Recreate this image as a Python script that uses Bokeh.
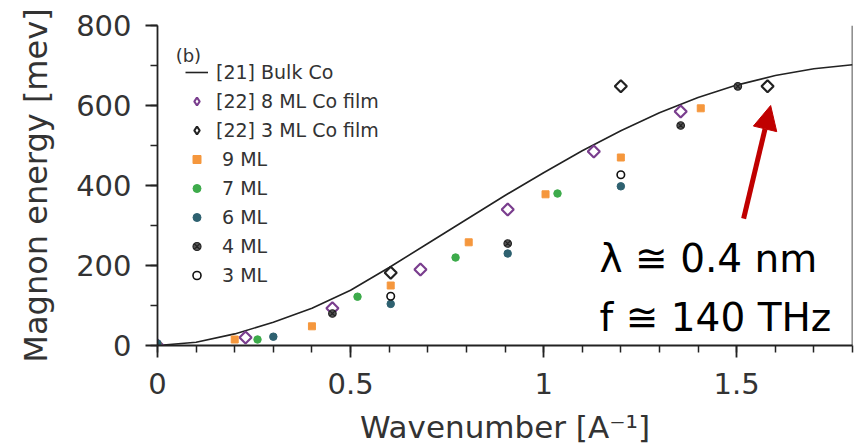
import numpy as np
from bokeh.plotting import figure
from bokeh.models import (Range1d, FixedTicker, NumeralTickFormatter, Legend, LegendItem,
                          Label, Arrow, NormalHead, Span, ColumnDataSource)
from bokeh.embed import file_html
from bokeh.resources import INLINE

# ---------------- data ----------------
BULK_Q = [0, 0.1, 0.2, 0.3, 0.4, 0.5, 0.6, 0.7, 0.8, 0.9, 1.0, 1.1, 1.2, 1.3, 1.4, 1.5, 1.6, 1.7, 1.8]
BULK_E = [0, 8, 29, 58, 93, 138, 195, 255, 315, 375, 432, 487, 537, 582, 620, 651, 675, 692, 702]

FILM8_Q = [0, 0.228, 0.453, 0.681, 0.907, 1.13, 1.355]
FILM8_E = [0, 20, 93, 190, 340, 485, 585]

FILM3_Q = [0.604, 1.20, 1.58]
FILM3_E = [182, 648, 648]

ML9_Q = [0, 0.20, 0.40, 0.604, 0.806, 1.005, 1.20, 1.407]
ML9_E = [0, 15, 48, 150, 258, 378, 470, 593]

ML7_Q = [0.259, 0.518, 0.772, 1.036]
ML7_E = [15, 122, 220, 380]

ML6_Q = [0, 0.30, 0.604, 0.907, 1.20]
ML6_E = [5, 22, 104, 230, 398]

ML4_Q = [0.453, 0.907, 1.355, 1.503]
ML4_E = [80, 255, 550, 648]

ML3_Q = [0.604, 1.20]
ML3_E = [123, 427]

X_TICKS = [0, 0.5, 1, 1.5]
Y_TICKS = [0, 200, 400, 600, 800]

LABELS = ["[21] Bulk Co", "[22] 8 ML Co film", "[22] 3 ML Co film",
          " 9 ML", " 7 ML", " 6 ML", " 4 ML", " 3 ML"]
X_TITLE = "Wavenumber [A\u207b\u00b9]"
Y_TITLE = "Magnon energy [mev]"
NOTE_1 = "\u03bb \u2245 0.4 nm"
NOTE_2 = "f \u2245 140 THz"
PANEL = "(b)"

# ---------------- styles ----------------
AX = "#222222"
TXT = "#333333"
PURPLE = "#7a3e8e"
ORANGE = "#f5973d"
GREEN = "#3dab4b"
TEAL = "#2e6170"
RED = "#c00000"

p = figure(width=854, height=447, x_range=Range1d(0, 1.80), y_range=Range1d(0, 800),
           output_backend="svg", toolbar_location=None,
           min_border_left=157, min_border_right=2, min_border_top=25, min_border_bottom=102,
           background_fill_color="white", border_fill_color="white")
p.xgrid.visible = False
p.ygrid.visible = False
p.outline_line_color = None

# axes
p.xaxis.ticker = FixedTicker(ticks=X_TICKS, minor_ticks=list(np.round(np.arange(0, 1.81, 0.1), 2)))
p.yaxis.ticker = FixedTicker(ticks=Y_TICKS, minor_ticks=list(range(0, 801, 100)))
p.xaxis.formatter = NumeralTickFormatter(format="0.[0]")
for ax in (p.xaxis[0], p.yaxis[0]):
    ax.axis_line_color = AX
    ax.axis_line_width = 1.8
    ax.major_tick_line_color = AX
    ax.major_tick_line_width = 1.8
    ax.minor_tick_line_color = AX
    ax.minor_tick_line_width = 1.5
    ax.major_tick_out = 12
    ax.major_tick_in = 0
    ax.minor_tick_out = 7
    ax.minor_tick_in = 0
    ax.major_label_text_font = "DejaVu Sans"
    ax.major_label_text_color = TXT
    ax.axis_label_text_font = "DejaVu Sans"
    ax.axis_label_text_font_style = "normal"
    ax.axis_label_text_color = TXT
p.xaxis.major_label_text_font_size = "29px"
p.yaxis.major_label_text_font_size = "29px"
p.xaxis.major_label_standoff = 15
p.yaxis.major_label_standoff = 14
p.xaxis.axis_label = X_TITLE
p.xaxis.axis_label_text_font_size = "31px"
p.xaxis.axis_label_text_line_height = 0.7
p.xaxis.axis_label_standoff = 12
p.yaxis.axis_label = Y_TITLE
p.yaxis.axis_label_text_font_size = "32px"
p.yaxis.axis_label_standoff = 18

# curve and points
r_bulk = p.line(BULK_Q, BULK_E, line_color=AX, line_width=1.6)
src_f8 = ColumnDataSource(data=dict(q=FILM8_Q, e=FILM8_E))
src_f3 = ColumnDataSource(data=dict(q=FILM3_Q, e=FILM3_E))
r_f8 = p.scatter("q", "e", source=src_f8, marker="square", angle=np.pi / 4, size=8.5,
                 fill_color="white", fill_alpha=0.0, line_color=PURPLE, line_width=2.2)
r_f3 = p.scatter("q", "e", source=src_f3, marker="square", angle=np.pi / 4, size=8.5,
                 fill_color="white", fill_alpha=0.0, line_color=AX, line_width=2.2)
r_9 = p.scatter(ML9_Q, ML9_E, marker="square", size=7, fill_color=ORANGE, line_color=ORANGE)
r_7 = p.scatter(ML7_Q, ML7_E, marker="circle", size=7.5, fill_color=GREEN, line_color=GREEN)
r_6 = p.scatter(ML6_Q, ML6_E, marker="circle", size=7.5, fill_color=TEAL, line_color=TEAL)
r_4 = p.scatter(ML4_Q, ML4_E, marker="circle_x", size=7.5, fill_color="#555555", line_color="#222222",
                line_width=1.2)
r_3 = p.scatter(ML3_Q, ML3_E, marker="circle", size=7.5, fill_color="white", line_color="#111111",
                line_width=1.6)

# legend proxies for the diamonds (legend glyphs ignore marker angle);
# they are muted with zero alpha, so they draw nothing in the plot area
k_f8 = p.scatter("q", "e", source=src_f8, marker="diamond", size=15, fill_alpha=0.0,
                 line_color=PURPLE, line_width=2.2, muted_alpha=0.0)
k_f3 = p.scatter("q", "e", source=src_f3, marker="diamond", size=15, fill_alpha=0.0,
                 line_color=AX, line_width=2.2, muted_alpha=0.0)
k_f8.muted = True
k_f3.muted = True

renderers = [r_bulk, k_f8, k_f3, r_9, r_7, r_6, r_4, r_3]
legend = Legend(items=[LegendItem(label=l, renderers=[r]) for l, r in zip(LABELS, renderers)],
                location=(28, 59), margin=0, padding=0, spacing=7,
                glyph_width=23, glyph_height=20, label_height=20, label_standoff=8,
                label_text_font="DejaVu Sans", label_text_font_size="19px", label_text_color=TXT,
                border_line_color=None, background_fill_alpha=0.0)
p.add_layout(legend)

p.add_layout(Label(x=0.047, y=724, text=PANEL, text_font="DejaVu Sans",
                   text_font_size="18px", text_color=TXT, text_baseline="alphabetic"))

# annotation
p.add_layout(Arrow(end=NormalHead(size=24, fill_color=RED, line_color=RED),
                   x_start=1.518, y_start=317, x_end=1.588, y_end=600,
                   line_color=RED, line_width=5))
p.add_layout(Label(x=1.145, y=218, text=NOTE_1, text_font="DejaVu Sans",
                   text_font_size="39px", text_color="black", text_baseline="alphabetic"))
p.add_layout(Label(x=1.145, y=70, text=NOTE_2, text_font="DejaVu Sans",
                   text_font_size="39px", text_color="black", text_baseline="alphabetic"))

p.add_layout(Span(location=1.80, dimension="height", line_color=AX, line_width=1.6))

open("out.html", "w").write(file_html(p, INLINE))
